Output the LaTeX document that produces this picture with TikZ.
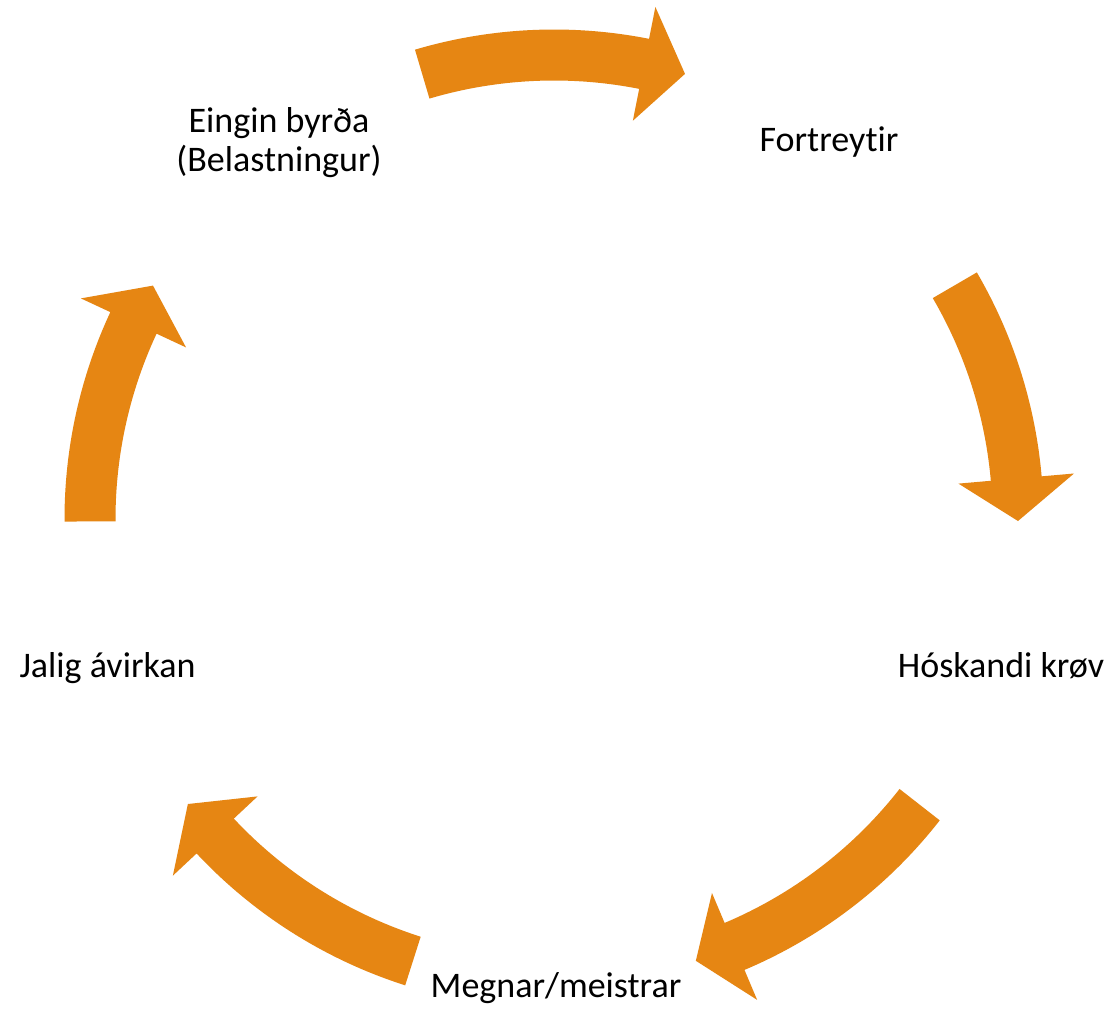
\documentclass[tikz,border=0pt]{standalone}
\usepackage{fontspec}
\setmainfont{Carlito}[Ligatures=NoCommon]
\definecolor{cycorange}{RGB}{230,134,19}
\newcommand{\cyclearrow}[3]{%
  \fill[cycorange] (#1:489.5) arc[start angle=#1, end angle=#2, radius=489.5]
    -- (#2:522) -- (#3:464) -- (#2:406) -- (#2:438.5)
    arc[start angle=#2, end angle=#1, radius=438.5] -- cycle;}
\begin{document}
\begin{tikzpicture}[x=1pt,y=1pt,
  lbl/.style={inner sep=0pt, anchor=base, font=\fontsize{36}{39}\selectfont, text=black}]
\useasboundingbox (-554,-490) rectangle (561,519);
\fill[white] (-554,-490) rectangle (561,519);
\cyclearrow{106.5}{78.8}{73.6}
\cyclearrow{30.25}{5.0}{-0.25}
\cyclearrow{-38}{-67.1}{-72.2}
\cyclearrow{-107.7}{-136.9}{-142.1}
\cyclearrow{180.3}{155}{149.8}
\node[lbl, align=center] (eingin) at (-275,347) {Eingin byrða\\(Belastningur)};
\node[lbl] (fort) at (275,367) {Fortreytir};
\node[lbl] (hosk) at (447,-158) {Hóskandi krøv};
\node[lbl] (megn) at (2,-478) {Megnar/meistrar};
\node[lbl] (jalig) at (-446.5,-158) {Jalig ávirkan};
\end{tikzpicture}
\end{document}
